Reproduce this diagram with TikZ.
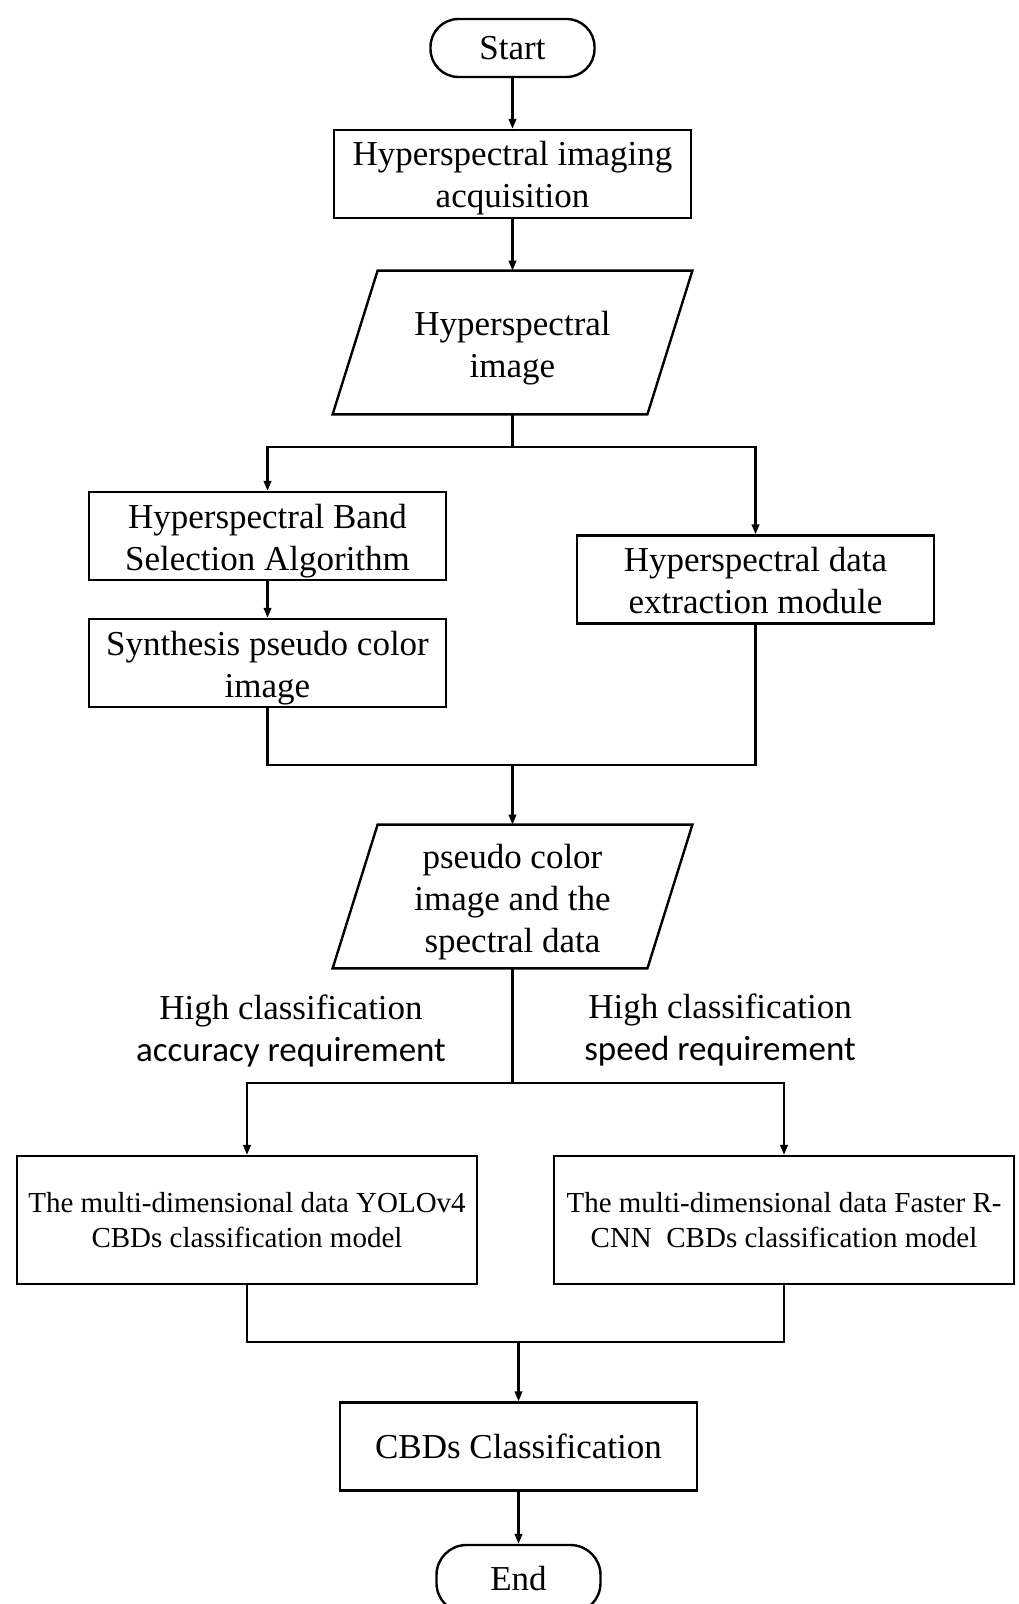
\documentclass[tikz,border=0pt]{standalone}
\usepackage{fontspec}
\setmainfont{Liberation Serif}
\newfontfamily\labelsans{Carlito}
\usetikzlibrary{arrows.meta, positioning}

\begin{document}
\begin{tikzpicture}[x=0.5pt, y=-0.5pt, >={Triangle[length=5pt,width=3.8pt]},
  every node/.style={font=\fontsize{17.5}{21}\selectfont},
  box/.style={draw, line width=1.2pt, minimum width=178.5pt, minimum height=44pt, align=center, inner sep=2pt},
  twoline/.style={text height=38pt, text depth=4pt, inner ysep=0pt},
  threeline/.style={text height=59.5pt, text depth=4pt, inner ysep=0pt},
  term/.style={draw, line width=1.2pt, rounded corners=14pt, minimum width=82pt, minimum height=29pt},
  io/.style={minimum width=157pt, minimum height=71.5pt, align=center, inner sep=1pt},
  ioedge/.style={line width=1.2pt, line join=miter},
  model/.style={box, minimum width=230pt, minimum height=64pt, font=\fontsize{14.5}{17.5}\selectfont},
  flow/.style={->, line width=1.1pt}, link/.style={line width=1.1pt}]
  % page frame
  \useasboundingbox (0,0) rectangle (1018,1604);

  % top part
  \node[term] (start) at (512.5,48) {Start};
  \node[box, twoline] (acq) at (512.5,174) {Hyperspectral imaging\\acquisition};
  \node[io, twoline, text height=39pt] (img) at (512.5,342.5) {Hyperspectral\\image};

  % two branches
  \node[box, twoline] (band) at (267.5,536) {Hyperspectral Band\\Selection Algorithm};
  \node[box, twoline] (synth) at (267.5,663) {Synthesis pseudo color\\image};
  \node[box, twoline] (extr) at (755.5,579.5) {Hyperspectral data\\extraction module};
  \node[io, threeline] (data) at (512.5,896.5) {pseudo color\\image and the\\spectral data};

  % slanted outlines of the two data nodes
  \draw[ioedge] ([xshift=-11.25pt]img.south west) -- ([xshift=11.25pt]img.north west)
    -- ([xshift=11.25pt]img.north east) -- ([xshift=-11.25pt]img.south east) -- cycle;
  \draw[ioedge] ([xshift=-11.25pt]data.south west) -- ([xshift=11.25pt]data.north west)
    -- ([xshift=11.25pt]data.north east) -- ([xshift=-11.25pt]data.south east) -- cycle;

  % requirements
  \node[align=center] (acclab) at (291,1031) {High classification\\{\labelsans accuracy requirement}};
  \node[align=center] (spdlab) at (720,1030) {High classification\\{\labelsans speed requirement}};

  % models
  \node[model] (yolo) at (247,1220) {The multi-dimensional data YOLOv4\\CBDs classification model};
  \node[model] (frcnn) at (784,1220) {The multi-dimensional data Faster R-\\CNN\ \ CBDs classification model};

  % bottom part
  \node[box] (cbds) at (518.5,1446.5) {CBDs Classification};
  \node[term, minimum height=34pt, rounded corners=15pt] (end) at (518.5,1579) {End};

  % junctions
  \coordinate (split) at (512.5,447);
  \coordinate (merge) at (512.5,765);
  \coordinate (fork) at (512.5,1083);
  \coordinate (join) at (518.5,1342);

  % connectors
  \draw[flow] (start) -- (acq);
  \draw[flow] (acq) -- (img);
  \draw[link] (img.south) -- (split);
  \draw[flow] (split) -| (band.north);
  \draw[flow] (split) -| (extr.north);
  \draw[flow] (band) -- (synth);
  \draw[link] (synth.south) |- (merge) -| (extr.south);
  \draw[flow] (merge) -- (data);
  \draw[link] (data.south) -- (fork);
  \draw[flow] (fork) -| (yolo.north);
  \draw[flow] (fork) -| (frcnn.north);
  \draw[link] (yolo.south) |- (join) -| (frcnn.south);
  \draw[flow] (join) -- (cbds);
  \draw[flow] (cbds) -- (end);
\end{tikzpicture}
\end{document}
